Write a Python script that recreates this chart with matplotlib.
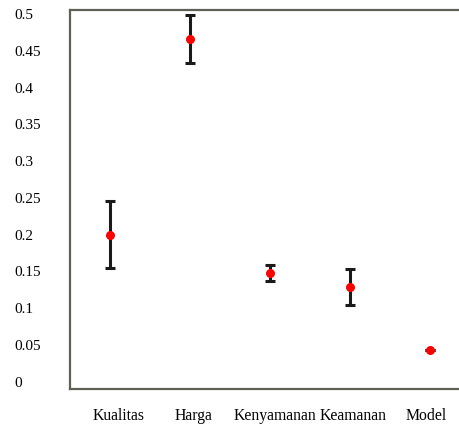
import matplotlib
matplotlib.use("Agg")
import matplotlib.pyplot as plt
import matplotlib.transforms as mtransforms
import numpy as np

categories = ["Kualitas", "Harga", "Kenyamanan", "Keamanan", "Model"]
means = [0.2, 0.466, 0.148, 0.129, 0.043]
errors = [0.046, 0.033, 0.011, 0.0245, 0.0]
yticks = [0, 0.05, 0.1, 0.15, 0.2, 0.25, 0.3, 0.35, 0.4, 0.45, 0.5]
ytick_labels = ["0", "0.05", "0.1", "0.15", "0.2", "0.25", "0.3", "0.35", "0.4", "0.45", "0.5"]

plt.rcParams["font.family"] = ["Liberation Serif", "DejaVu Serif"]

fig = plt.figure(figsize=(4.59, 4.25), dpi=100)
ax = fig.add_axes([69.5 / 459, (425 - 389) / 425, 400 / 459, 379 / 425])

x = np.arange(len(categories))
ax.errorbar(x, means, yerr=errors, fmt="none", ecolor="#1a1a1a", elinewidth=2.2,
            capsize=3.5, capthick=2.2, zorder=2)
ax.plot(x, means, "o", color="#ff0000", markersize=6.5, zorder=3, markeredgewidth=0)

ax.set_xlim(-0.5, 4.5)
ax.set_ylim(-0.0099, 0.5054)
ax.set_xticks(x)
ax.set_xticklabels(categories, fontsize=11.3)
ax.set_yticks(yticks)
ax.set_yticklabels(ytick_labels, fontsize=11)
for lab in ax.get_yticklabels():
    lab.set_horizontalalignment("left")
ax.tick_params(axis="y", length=0, pad=40)
ax.tick_params(axis="x", length=0, pad=14)

# small horizontal nudges of the category labels, as in the reference
label_shift_px = [9, 4, 5, 4, -3]
for lab, dx in zip(ax.get_xticklabels(), label_shift_px):
    lab.set_transform(lab.get_transform() +
                      mtransforms.ScaledTranslation(dx / 100, 0, fig.dpi_scale_trans))

ax.spines["right"].set_visible(False)
for side in ["left", "top", "bottom"]:
    ax.spines[side].set_color("#5f5f55")
    ax.spines[side].set_linewidth(1.6)

fig.savefig("out.png", dpi=100)
